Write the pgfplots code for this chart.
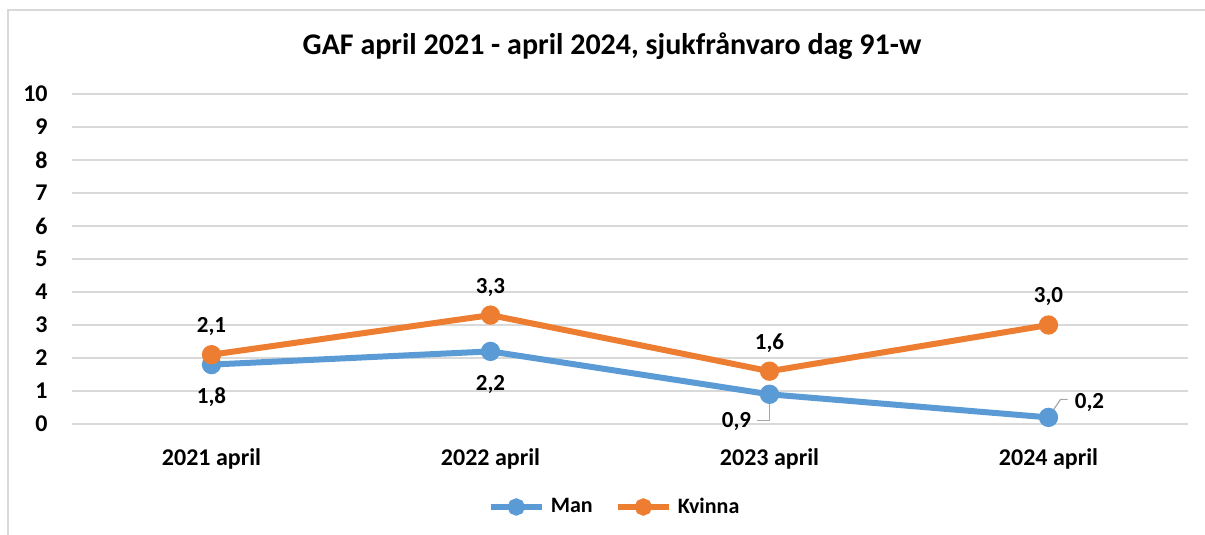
\documentclass[border=0pt]{standalone}
\usepackage{pgfplots}
\pgfplotsset{compat=1.18}
\usepackage{fontspec}
\setmainfont{Carlito}
\definecolor{manblue}{HTML}{5B9BD5}
\definecolor{kvorange}{HTML}{ED7D31}
\definecolor{gridgray}{HTML}{D9D9D9}
\definecolor{leadgray}{HTML}{A6A6A6}
\pgfplotsset{
  dlabel/.style={nodes near coords={\pgfmathprintnumber[use comma,fixed,fixed zerofill,precision=1]{\pgfplotspointmeta}},
    every node near coord/.append style={font=\fontsize{11.5}{13}\selectfont\bfseries, inner sep=0pt, anchor=base, text=black, #1}},
}
\begin{document}
\begin{tikzpicture}
\path[use as bounding box] (0,0) rectangle (602.5pt,267.5pt);
\draw[gridgray, line width=1pt] (4pt,0) -- (4pt,262.5pt) -- (603pt,262.5pt);
\node[font=\fontsize{15}{17}\selectfont\bfseries] at (306pt,244.5pt) {GAF april 2021 - april 2024, sjukfrånvaro dag 91-w};
\begin{axis}[
  at={(36pt,55.5pt)}, anchor=south west,
  scale only axis, width=558pt, height=165pt,
  xmin=-0.5, xmax=3.5, ymin=0, ymax=10,
  xtick={0,1,2,3}, xticklabels={2021 april,2022 april,2023 april,2024 april},
  ytick={0,1,...,10},
  ymajorgrids, grid style={gridgray, line width=0.9pt},
  axis line style={draw=none}, tick style={draw=none},
  /pgf/number format/assume math mode=true,
  ticklabel style={font=\fontsize{12}{14}\selectfont\bfseries},
  yticklabel style={inner sep=0pt, xshift=-12pt},
  xticklabel style={inner sep=0pt, yshift=-12pt},
  clip=false,
  legend style={at={(0.487,-0.2515)}, anchor=center, draw=none, legend columns=2,
    font=\fontsize{11}{13}\selectfont\bfseries,
    /tikz/every odd column/.append style={column sep=1pt},
    /tikz/every even column/.append style={column sep=9pt}},
  legend image code/.code={\draw[mark repeat=2,mark phase=2,#1,mark size=2.8pt] plot coordinates {(0cm,0cm)(0.45cm,0cm)(0.9cm,0cm)};},
]
\addplot[manblue, line width=3pt, mark=*, mark size=3.3pt, mark options={solid}]
  coordinates {(0,1.8) (1,2.2) (2,0.9) (3,0.2)};
\addlegendentry{Man}
\addplot[kvorange, line width=3pt, mark=*, mark size=3.3pt, dlabel={yshift=11pt}]
  coordinates {(0,2.1) (1,3.3) (2,1.6) (3,3.0)};
\addlegendentry{Kvinna}
% Man data labels
\addplot[draw=none, mark=none, forget plot, dlabel={yshift=-19.5pt}]
  coordinates {(0,1.8) (1,2.2)};
\addplot[draw=none, mark=none, forget plot, dlabel={xshift=-16.5pt, yshift=-16.5pt}]
  coordinates {(2,0.9)};
\addplot[draw=none, mark=none, forget plot, dlabel={xshift=20.5pt, yshift=4.5pt}]
  coordinates {(3,0.2)};
\draw[leadgray, line width=0.6pt]
  ([yshift=-1pt]axis cs:2,0.9) -- ([yshift=-13pt]axis cs:2,0.9) -- ([xshift=-6.5pt,yshift=-13pt]axis cs:2,0.9);
\draw[leadgray, line width=0.6pt]
  ([xshift=2pt,yshift=3pt]axis cs:3,0.2) -- ([xshift=6pt,yshift=9pt]axis cs:3,0.2) -- ([xshift=9.5pt,yshift=9pt]axis cs:3,0.2);
\end{axis}
\end{tikzpicture}
\end{document}
